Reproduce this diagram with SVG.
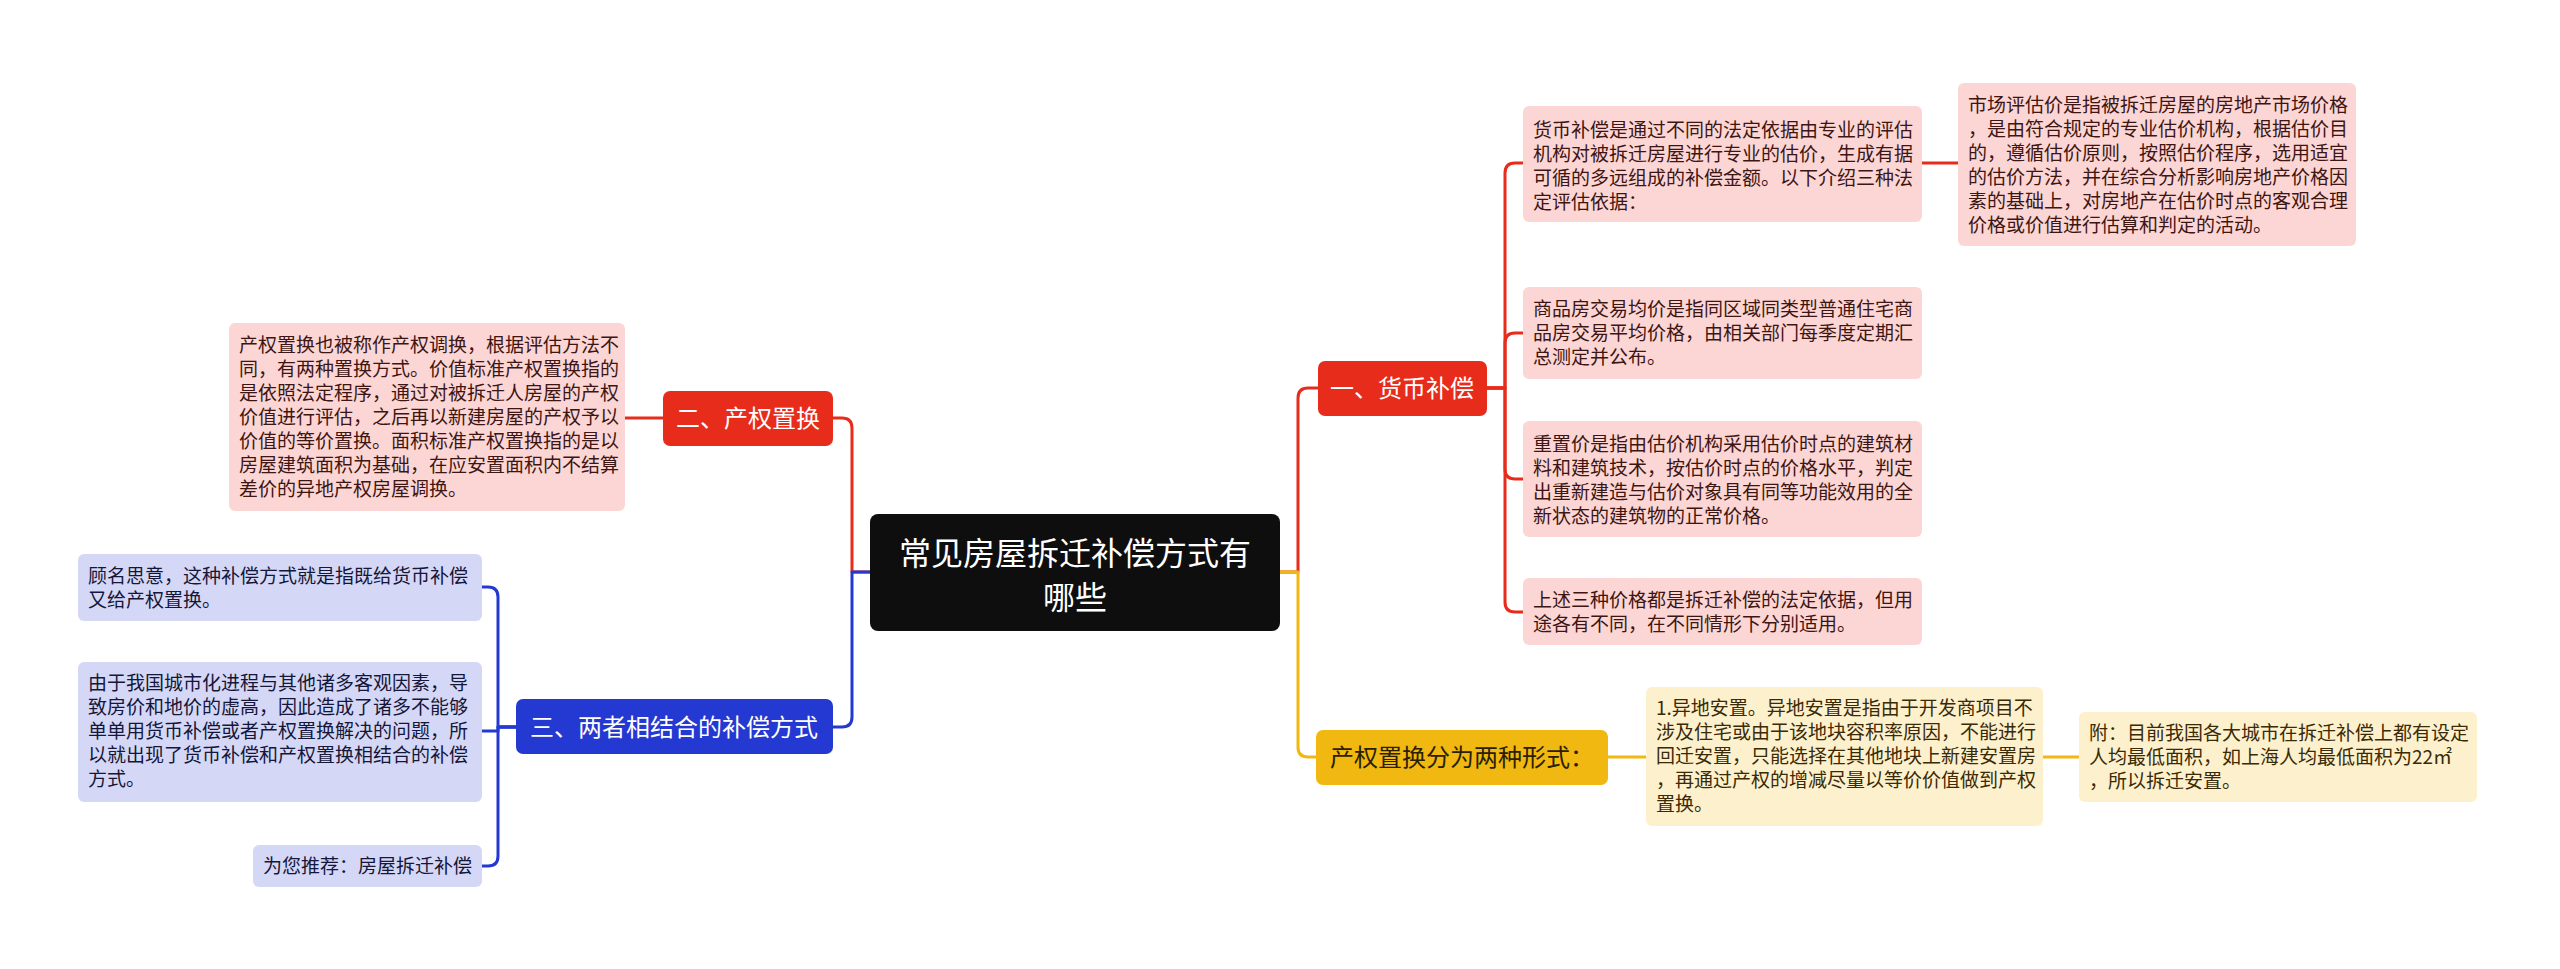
<svg xmlns="http://www.w3.org/2000/svg" width="2560" height="969" viewBox="0 0 2560 969">
<style>
text{font-family:"Noto Sans CJK SC","Noto Sans",sans-serif}
.c{fill:none;stroke-width:3;stroke-linejoin:round;stroke-linecap:round}
.cr{stroke:#e82c1c}.cy{stroke:#f0b810}.cb{stroke:#2438d2}
.dt{font-size:19px}
.pr{fill:#fcd6d4}.tr{fill:#3d1512}
.py{fill:#fdf0cd}.ty{fill:#3a2a05}
.pb{fill:#d4d8f6}.tb{fill:#14163a}
.nt{font-size:24px;text-anchor:middle}
</style>
<rect width="2560" height="969" fill="#ffffff"/>
<g id="connectors">
<path class="c cr" d="M1280 572 H1298 V398 Q1298 388 1308 388 H1318"/>
<path class="c cy" d="M1280 572 H1298 V747 Q1298 757 1308 757 H1316"/>
<path class="c cr" d="M1487 388 H1505 V173 Q1505 163 1515 163 H1523"/>
<path class="c cr" d="M1487 388 H1505 V343 Q1505 333 1515 333 H1523"/>
<path class="c cr" d="M1487 388 H1505 V469 Q1505 479 1515 479 H1523"/>
<path class="c cr" d="M1487 388 H1505 V602 Q1505 612 1515 612 H1523"/>
<path class="c cr" d="M1922 163 H1958"/>
<path class="c cy" d="M1608 757 H1646"/>
<path class="c cy" d="M2043 757 H2079"/>
<path class="c cr" d="M870 572 H852 V428 Q852 418 842 418 H833"/>
<path class="c cb" d="M870 572 H852 V717 Q852 727 842 727 H833"/>
<path class="c cr" d="M663 418 H625"/>
<path class="c cb" d="M516 727 H498 V597 Q498 587 488 587 H482"/>
<path class="c cb" d="M516 727 H498 V731 H482"/>
<path class="c cb" d="M516 727 H498 V856 Q498 866 488 866 H482"/>
</g>
<g id="root">
<rect x="870" y="514" width="410" height="117" rx="8" fill="#0e0e0e"/>
<text x="1075" y="565" font-size="32" fill="#ffffff" text-anchor="middle">常见房屋拆迁补偿方式有</text>
<text x="1075" y="609" font-size="32" fill="#ffffff" text-anchor="middle">哪些</text>
</g>
<g id="n1">
<rect x="1318" y="361" width="169" height="55" rx="7" fill="#e82c1c"/>
<text class="nt" x="1402" y="397" fill="#ffffff">一、货币补偿</text>
</g>
<g id="n1a">
<rect class="pr" x="1523" y="106" width="399" height="116" rx="6"/>
<text class="dt tr" x="1533"><tspan x="1533" y="137">货币补偿是通过不同的法定依据由专业的评估</tspan><tspan x="1533" y="161">机构对被拆迁房屋进行专业的估价，生成有据</tspan><tspan x="1533" y="185">可循的多远组成的补偿金额。以下介绍三种法</tspan><tspan x="1533" y="209">定评估依据：</tspan></text>
</g>
<g id="n1a1">
<rect class="pr" x="1958" y="83" width="398" height="163" rx="6"/>
<text class="dt tr"><tspan x="1968" y="112">市场评估价是指被拆迁房屋的房地产市场价格</tspan><tspan x="1968" y="136">，是由符合规定的专业估价机构，根据估价目</tspan><tspan x="1968" y="160">的，遵循估价原则，按照估价程序，选用适宜</tspan><tspan x="1968" y="184">的估价方法，并在综合分析影响房地产价格因</tspan><tspan x="1968" y="208">素的基础上，对房地产在估价时点的客观合理</tspan><tspan x="1968" y="232">价格或价值进行估算和判定的活动。</tspan></text>
</g>
<g id="n1b">
<rect class="pr" x="1523" y="287" width="399" height="92" rx="6"/>
<text class="dt tr"><tspan x="1533" y="316">商品房交易均价是指同区域同类型普通住宅商</tspan><tspan x="1533" y="340">品房交易平均价格，由相关部门每季度定期汇</tspan><tspan x="1533" y="364">总测定并公布。</tspan></text>
</g>
<g id="n1c">
<rect class="pr" x="1523" y="421" width="399" height="116" rx="6"/>
<text class="dt tr"><tspan x="1533" y="451">重置价是指由估价机构采用估价时点的建筑材</tspan><tspan x="1533" y="475">料和建筑技术，按估价时点的价格水平，判定</tspan><tspan x="1533" y="499">出重新建造与估价对象具有同等功能效用的全</tspan><tspan x="1533" y="523">新状态的建筑物的正常价格。</tspan></text>
</g>
<g id="n1d">
<rect class="pr" x="1523" y="578" width="399" height="67" rx="6"/>
<text class="dt tr"><tspan x="1533" y="607">上述三种价格都是拆迁补偿的法定依据，但用</tspan><tspan x="1533" y="631">途各有不同，在不同情形下分别适用。</tspan></text>
</g>
<g id="n4">
<rect x="1316" y="730" width="292" height="55" rx="7" fill="#f0b810"/>
<text class="nt" x="1462" y="766" fill="#2a2000">产权置换分为两种形式：</text>
</g>
<g id="n4a">
<rect class="py" x="1646" y="687" width="397" height="139" rx="6"/>
<text class="dt ty"><tspan x="1656" y="715">1.异地安置。异地安置是指由于开发商项目不</tspan><tspan x="1656" y="739">涉及住宅或由于该地块容积率原因，不能进行</tspan><tspan x="1656" y="763">回迁安置，只能选择在其他地块上新建安置房</tspan><tspan x="1656" y="787">，再通过产权的增减尽量以等价价值做到产权</tspan><tspan x="1656" y="811">置换。</tspan></text>
</g>
<g id="n4a1">
<rect class="py" x="2079" y="712" width="398" height="90" rx="6"/>
<text class="dt ty"><tspan x="2089" y="740">附：目前我国各大城市在拆迁补偿上都有设定</tspan><tspan x="2089" y="764">人均最低面积，如上海人均最低面积为22㎡</tspan><tspan x="2089" y="788">，所以拆迁安置。</tspan></text>
</g>
<g id="n2">
<rect x="663" y="391" width="170" height="55" rx="7" fill="#e82c1c"/>
<text class="nt" x="748" y="427" fill="#ffffff">二、产权置换</text>
</g>
<g id="n2a">
<rect class="pr" x="229" y="323" width="396" height="188" rx="6"/>
<text class="dt tr"><tspan x="239" y="352">产权置换也被称作产权调换，根据评估方法不</tspan><tspan x="239" y="376">同，有两种置换方式。价值标准产权置换指的</tspan><tspan x="239" y="400">是依照法定程序，通过对被拆迁人房屋的产权</tspan><tspan x="239" y="424">价值进行评估，之后再以新建房屋的产权予以</tspan><tspan x="239" y="448">价值的等价置换。面积标准产权置换指的是以</tspan><tspan x="239" y="472">房屋建筑面积为基础，在应安置面积内不结算</tspan><tspan x="239" y="496">差价的异地产权房屋调换。</tspan></text>
</g>
<g id="n3">
<rect x="516" y="699" width="317" height="55" rx="7" fill="#2438d2"/>
<text class="nt" x="674" y="736" fill="#ffffff">三、两者相结合的补偿方式</text>
</g>
<g id="n3a">
<rect class="pb" x="78" y="554" width="404" height="67" rx="6"/>
<text class="dt tb"><tspan x="88" y="583">顾名思意，这种补偿方式就是指既给货币补偿</tspan><tspan x="88" y="607">又给产权置换。</tspan></text>
</g>
<g id="n3b">
<rect class="pb" x="78" y="662" width="404" height="140" rx="6"/>
<text class="dt tb"><tspan x="88" y="690">由于我国城市化进程与其他诸多客观因素，导</tspan><tspan x="88" y="714">致房价和地价的虚高，因此造成了诸多不能够</tspan><tspan x="88" y="738">单单用货币补偿或者产权置换解决的问题，所</tspan><tspan x="88" y="762">以就出现了货币补偿和产权置换相结合的补偿</tspan><tspan x="88" y="786">方式。</tspan></text>
</g>
<g id="n3c">
<rect class="pb" x="253" y="845" width="229" height="42" rx="6"/>
<text class="dt tb"><tspan x="263" y="873">为您推荐：房屋拆迁补偿</tspan></text>
</g>
</svg>
